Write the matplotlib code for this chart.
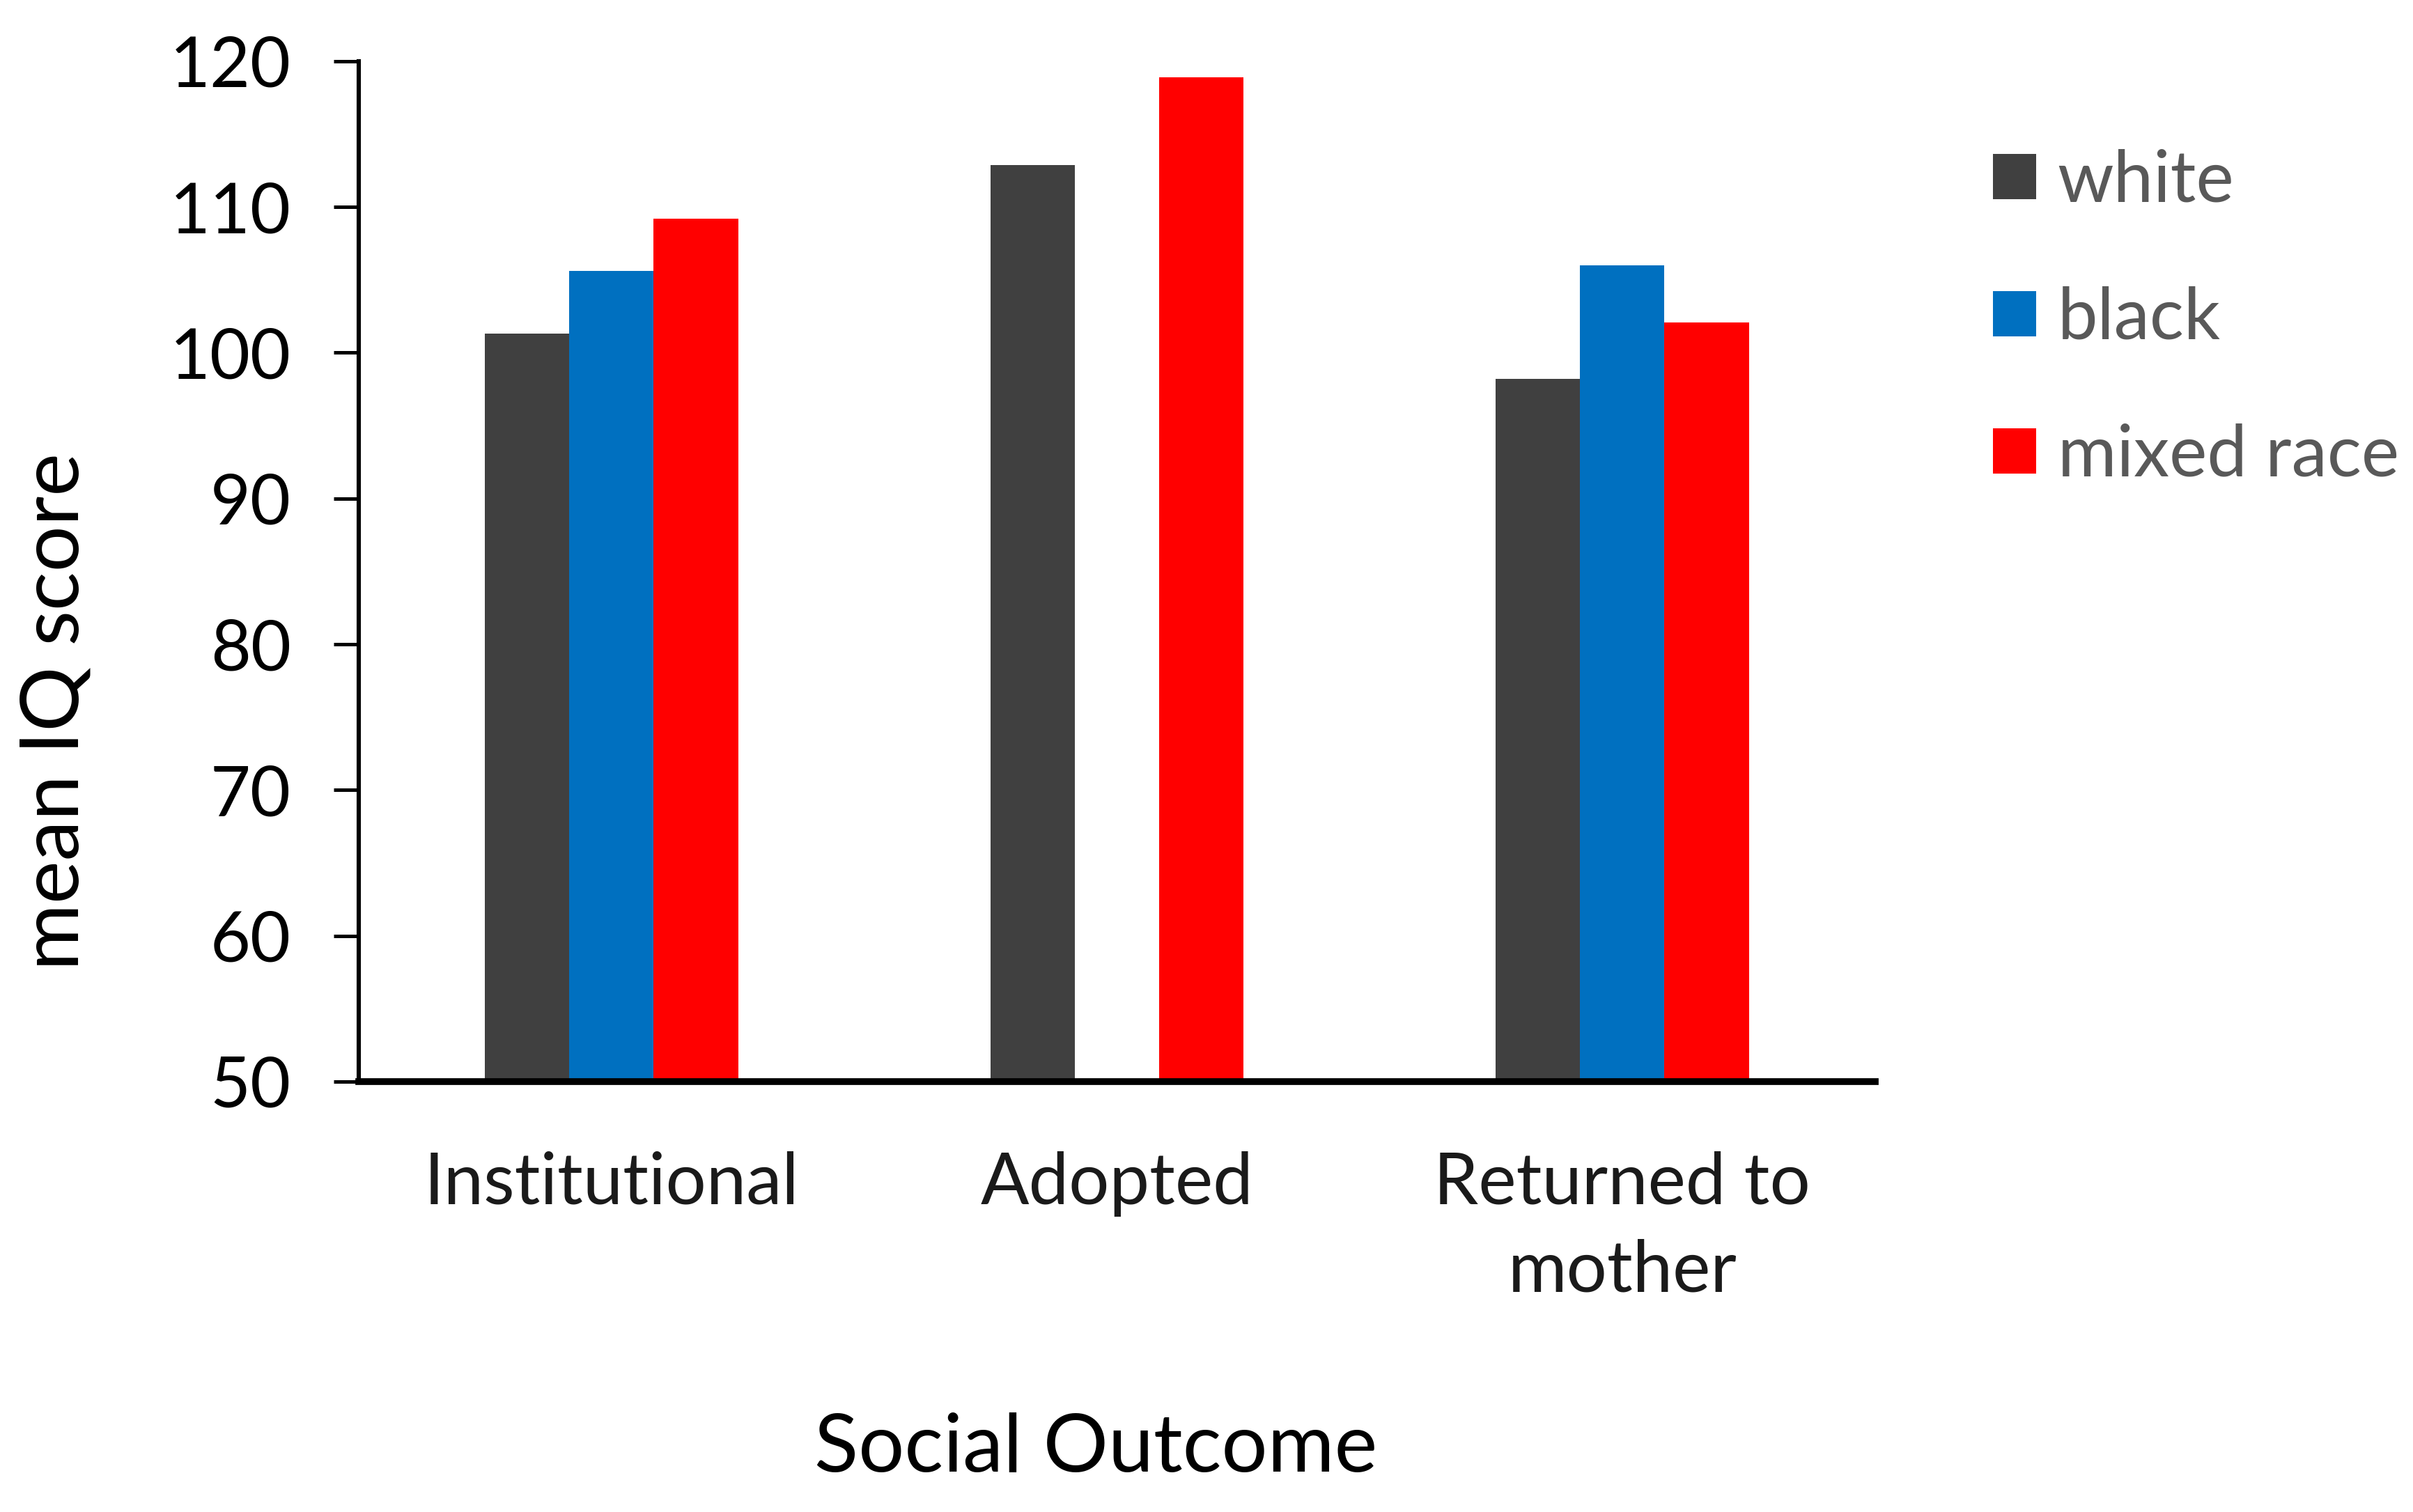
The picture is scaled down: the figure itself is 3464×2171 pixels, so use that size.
import numpy as np
import matplotlib
matplotlib.use("Agg")
import matplotlib.pyplot as plt

plt.rcParams['font.family'] = ['Lato', 'DejaVu Sans']

categories = ["Institutional", "Adopted", "Returned to\nmother"]
series = ["white", "black", "mixed race"]
white_iq = [101.3, 112.9, 98.2]
black_iq = [105.6, np.nan, 106.0]
mixed_iq = [109.2, 118.9, 102.1]
colours = ["#404040", "#0070C0", "#FF0000"]

y_ticks = [50, 60, 70, 80, 90, 100, 110, 120]

fig = plt.figure(figsize=(17.32, 10.855), dpi=200)
ax = fig.add_axes([0.1487, 0.2847, 0.6283, 0.6748])

x = np.arange(len(categories))
width = 0.167
for i, (vals, name, col) in enumerate(zip([white_iq, black_iq, mixed_iq], series, colours)):
    ax.bar(x + (i - 1) * width, np.array(vals) - 50, width=width, bottom=50,
           color=col, label=name, zorder=2)

ax.set_xlim(-0.5, 2.5)
ax.set_ylim(50, 120)
ax.set_yticks(y_ticks)
ax.set_xticks(x)
ax.set_xticklabels(categories, fontsize=37, color="#1a1a1a", linespacing=1.42)

for s in ["top", "right"]:
    ax.spines[s].set_visible(False)
ax.spines["left"].set_linewidth(2.2)
ax.spines["bottom"].set_linewidth(3.5)
ax.tick_params(axis="y", length=13, width=1.8, pad=22, labelsize=36)
ax.tick_params(axis="x", length=0, pad=36)

ax.set_ylabel("mean IQ score", fontsize=42)
ax.yaxis.set_label_coords(-0.176, 0.363)
ax.set_xlabel("Social Outcome", fontsize=42)
ax.xaxis.set_label_coords(0.486, -0.324)

leg = ax.legend(loc="upper left", frameon=False, fontsize=37,
                handlelength=0.6, handleheight=0.6, handletextpad=0.3,
                labelspacing=1.0, borderaxespad=0, borderpad=0,
                labelcolor="#595959")
leg.set_bbox_to_anchor((1.078, 0.914), transform=ax.transAxes)

fig.savefig("out.png", dpi=200)
